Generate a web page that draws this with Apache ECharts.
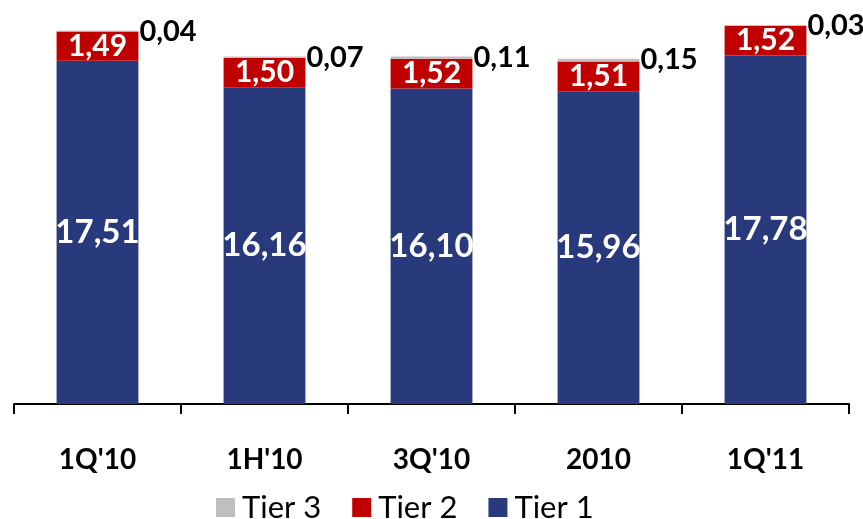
<!DOCTYPE html>
<html>
<head>
<meta charset="utf-8">
<script src="https://cdn.jsdelivr.net/npm/echarts@6/dist/echarts.min.js"></script>
<style>
html,body{margin:0;padding:0;background:#fff;}
#chart{width:863px;height:519px;}
</style>
</head>
<body>
<div id="chart"></div>
<script>
const categories=['1Q\'10','1H\'10','3Q\'10','2010','1Q\'11'];
const tier1=[17.51,16.16,16.10,15.96,17.78];
const tier2=[1.49,1.50,1.52,1.51,1.52];
const tier3=[0.04,0.07,0.11,0.15,0.03];

const fontFamily='Lato, "Open Sans", sans-serif';
const fmt=p=>p.value.toFixed(2).replace('.',',');

const chart=echarts.init(document.getElementById('chart'));
const option={
    backgroundColor:'#fff',
    textStyle:{fontFamily:fontFamily},
    animation:false,
    grid:{
        left:14,
        right:14,
        top:12,
        bottom:115
    },
    legend:{
        top:487,
        left:211,
        padding:5,
        itemWidth:19,
        itemHeight:19,
        itemGap:31,
        icon:'rect',
        data:['Tier 3','Tier 2','Tier 1'],
        textStyle:{fontSize:31,color:'#000',fontFamily:fontFamily,padding:[0,0,0,2]}
    },
    xAxis:{
        type:'category',
        data:categories,
        axisLine:{lineStyle:{color:'#000',width:2}},
        axisTick:{show:true,length:10,lineStyle:{color:'#000',width:2}},
        axisLabel:{
            color:'#000',
            fontSize:28,
            fontWeight:'bold',
            margin:42,
            interval:0
        }
    },
    yAxis:{
        type:'value',
        show:false,
        min:0,
        max:20
    },
    series:[
        {
            name:'Tier 1',
            type:'bar',
            stack:'total',
            barWidth:'49%',
            itemStyle:{color:'#283A7B'},
            label:{
                show:true,
                position:'inside',
                color:'#fff',
                fontSize:33,
                fontWeight:'bold',
                formatter:fmt
            },
            data:tier1
        },
        {
            name:'Tier 2',
            type:'bar',
            stack:'total',
            itemStyle:{color:'#C00000'},
            label:{
                show:true,
                position:'inside',
                color:'#fff',
                fontSize:30,
                fontWeight:'bold',
                formatter:fmt
            },
            data:tier2
        },
        {
            name:'Tier 3',
            type:'bar',
            stack:'total',
            itemStyle:{color:'#BFBFBF'},
            label:{
                show:true,
                position:'right',
                distance:1,
                color:'#000',
                fontSize:29,
                fontWeight:'bold',
                formatter:fmt
            },
            data:tier3
        }
    ]
};
chart.setOption(option);
</script>
</body>
</html>
